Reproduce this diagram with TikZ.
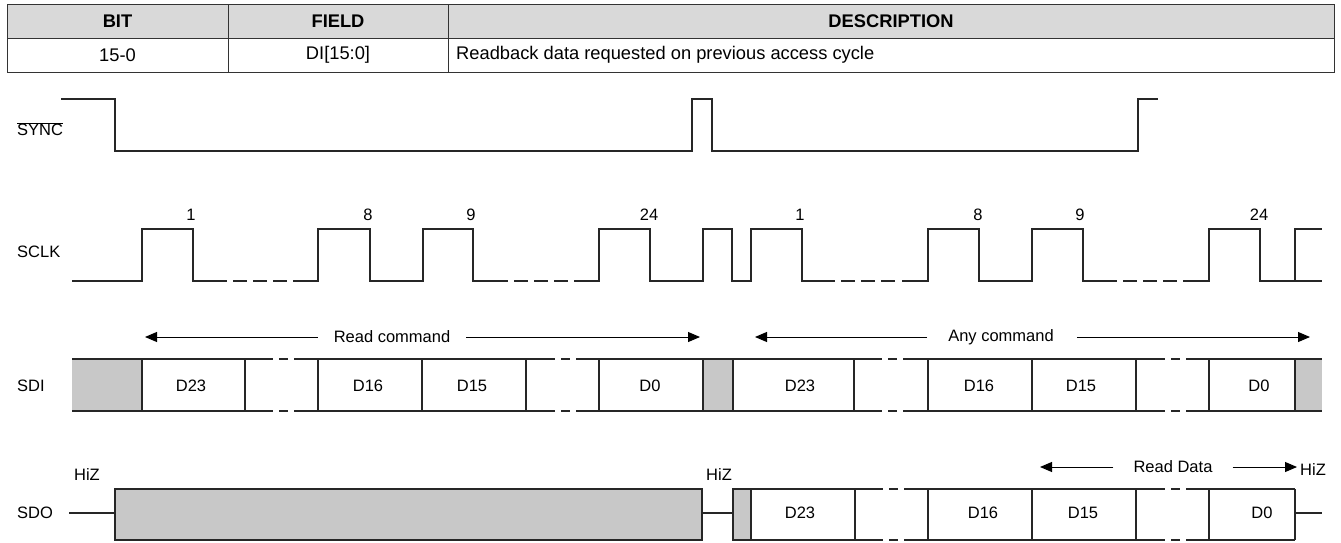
\documentclass[tikz,border=0pt]{standalone}
\usepackage{fontspec}
\setmainfont{Liberation Sans}
\usetikzlibrary{arrows.meta}
\definecolor{cellgray}{RGB}{200,200,200}
\definecolor{headgray}{RGB}{217,217,217}
\tikzset{
  sig/.style={line width=1.2pt,black!85,line cap=butt,line join=miter},
  dsh/.style={sig,dash pattern=on 14pt off 6pt},
  lbl/.style={font=\fontsize{16.5}{19}\selectfont,inner sep=0pt},
  tbl/.style={font=\fontsize{18.3}{21}\selectfont,inner sep=0pt},
  tblb/.style={font=\fontsize{18.3}{21}\selectfont\bfseries,inner sep=0pt},
  arr/.style={line width=1pt,black,-{Triangle[length=12pt,width=10pt]}},
  grayc/.style={fill=cellgray,draw=none},
  tline/.style={line width=1pt,black!80}
}
\begin{document}
\begin{tikzpicture}[x=1pt,y=-1pt]
\useasboundingbox (0,0) rectangle (1341,542);
% ---------- table ----------
\fill[headgray] (7,4) rectangle (1334,38);
\draw[tline] (7,4) rectangle (1334,72);
\draw[tline] (7,38) -- (1334,38);
\draw[tline] (228,4) -- (228,72);
\draw[tline] (448,4) -- (448,72);
\node[tblb] (hbit) at (117.5,21) {BIT};
\node[tblb] (hfield) at (338,21) {FIELD};
\node[tblb] (hdesc) at (891,21) {DESCRIPTION};
\node[tbl] (rbit) at (117.5,55) {15-0};
\node[tbl] (rfield) at (338,55) {DI[15:0]};
\node[tbl,anchor=west] (rdesc) at (456,55) {Readback data requested on previous access cycle};
% ---------- labels ----------
\node[lbl,anchor=west] (lsync) at (17,129) {$\overline{\mbox{SYNC}}$};
\node[lbl,anchor=west] (lsclk) at (17,252) {SCLK};
\node[lbl,anchor=west] (lsdi) at (17,386) {SDI};
\node[lbl,anchor=west] (lsdo) at (17,513) {SDO};
% ---------- SYNC ----------
\draw[sig] (61,99) -- (115,99) -- (115,151) -- (692,151) -- (692,99) -- (712,99) -- (712,151) -- (1138,151) -- (1138,99) -- (1158,99);
% ---------- SCLK ----------
\draw[sig] (72,281) -- (142,281) -- (142,229) -- (193,229) -- (193,281) -- (227,281);
\draw[dsh] (233,281) -- (289,281);
\draw[sig] (293,281) -- (318,281) -- (318,229) -- (370,229) -- (370,281) -- (423,281) -- (423,229) -- (473,229) -- (473,281) -- (508,281);
\draw[dsh] (514,281) -- (570,281);
\draw[sig] (574,281) -- (599,281) -- (599,229) -- (650,229) -- (650,281) -- (703,281) -- (703,229) -- (732,229) -- (732,281) -- (751,281) -- (751,229) -- (802,229) -- (802,281) -- (835,281);
\draw[dsh] (841,281) -- (897,281);
\draw[sig] (902,281) -- (928,281) -- (928,229) -- (979,229) -- (979,281) -- (1032,281) -- (1032,229) -- (1083,229) -- (1083,281) -- (1117,281);
\draw[dsh] (1123,281) -- (1179,281);
\draw[sig] (1183,281) -- (1209,281) -- (1209,229) -- (1260,229) -- (1260,281) -- (1322,281);
\draw[sig] (1295,281) -- (1295,229) -- (1322,229);
\foreach \x/\t [count=\i] in {191/1,368/8,471/9,649/24,800/1,978/8,1080/9,1259/24}
  \node[lbl] (clk\i) at (\x,215) {\t};
% ---------- SDI arrows ----------
\node[lbl] (rcmd) at (392,337) {Read command};
\coordinate (rcl) at (145,337);
\coordinate (rcr) at (700,337);
\draw[arr] ([xshift=-16pt]rcmd.west) -- (rcl);
\draw[arr] ([xshift=16pt]rcmd.east) -- (rcr);
\node[lbl] (acmd) at (1001,337) {Any command};
\coordinate (acl) at (755,337);
\coordinate (acr) at (1310,337);
\draw[arr] ([xshift=-21pt]acmd.west) -- (acl);
\draw[arr] ([xshift=23pt]acmd.east) -- (acr);
% ---------- SDI bus ----------
\fill[cellgray] (72,359) rectangle (142,411);
\fill[cellgray] (703,359) rectangle (733,411);
\fill[cellgray] (1295,359) rectangle (1322,411);
\foreach \y in {359,411} {
  \draw[sig] (72,\y) -- (273,\y);
  \draw[sig] (279,\y) -- (288,\y);
  \draw[sig] (294,\y) -- (555,\y);
  \draw[sig] (561,\y) -- (570,\y);
  \draw[sig] (576,\y) -- (882,\y);
  \draw[sig] (888,\y) -- (897,\y);
  \draw[sig] (903,\y) -- (1165,\y);
  \draw[sig] (1171,\y) -- (1180,\y);
  \draw[sig] (1186,\y) -- (1322,\y);
}
\foreach \x in {142,245,318,422,526,599,703,733,854,928,1032,1136,1209,1295}
  \draw[sig] (\x,359) -- (\x,411);
\foreach \x/\t [count=\i] in {191/D23,368/D16,472/D15,650/D0,800/D23,979/D16,1081/D15,1259/D0}
  \node[lbl] (sdi\i) at (\x,386) {\t};
% ---------- SDO ----------
\node[lbl] (hiz1) at (87,475) {HiZ};
\node[lbl] (hiz2) at (719,475) {HiZ};
\node[lbl,anchor=west] (hiz3) at (1300,470) {HiZ};
\node[lbl] (rdata) at (1173,467) {Read Data};
\coordinate (rdl) at (1040,467);
\coordinate (rdr) at (1297,467);
\draw[arr] ([xshift=-20pt]rdata.west) -- (rdl);
\draw[arr] ([xshift=20pt]rdata.east) -- (rdr);
\coordinate (sdo0) at (69,513);
\draw[sig] (sdo0) -- (115,513);
\draw[sig,fill=cellgray] (115,489) rectangle (702,540);
\draw[sig] (702,513) -- (733,513);
\draw[sig,fill=cellgray] (733,489) rectangle (751,540);
\foreach \y in {489,540} {
  \draw[sig] (751,\y) -- (883,\y);
  \draw[sig] (889,\y) -- (898,\y);
  \draw[sig] (904,\y) -- (1165,\y);
  \draw[sig] (1171,\y) -- (1180,\y);
  \draw[sig] (1186,\y) -- (1295,\y);
}
\foreach \x in {855,928,1032,1136,1209,1295}
  \draw[sig] (\x,489) -- (\x,540);
\draw[sig] (1295,513) -- (1322,513);
\foreach \x/\t [count=\i] in {800/D23,983/D16,1083/D15,1262/D0}
  \node[lbl] (sdo\i) at (\x,513) {\t};
\end{tikzpicture}
\end{document}
